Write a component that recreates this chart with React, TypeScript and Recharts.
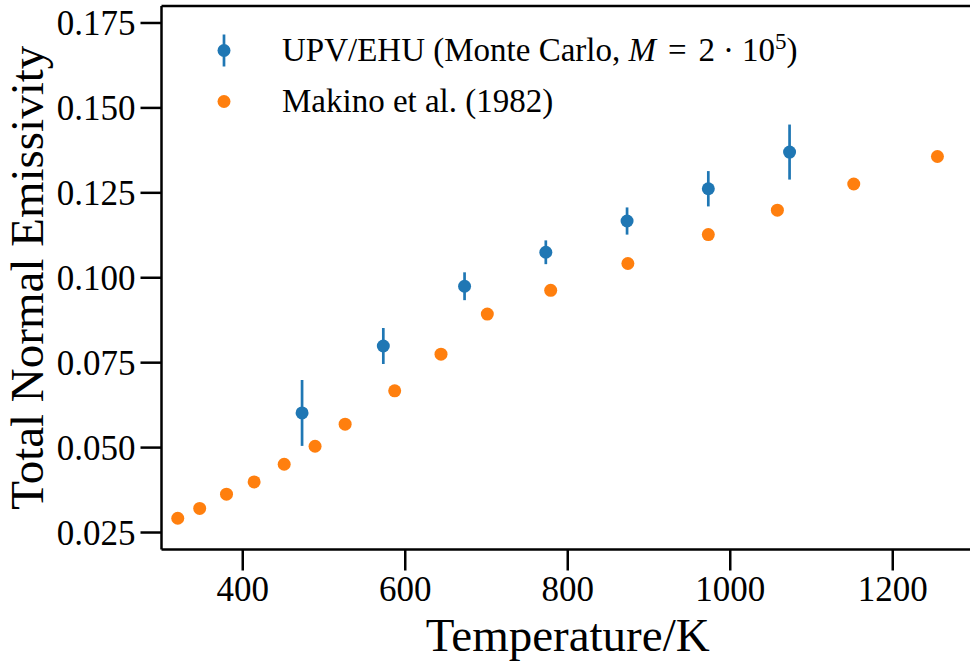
import React from 'react';
import { ScatterChart, Scatter, XAxis, YAxis, ErrorBar, Legend, ReferenceLine } from 'recharts';

// UPV/EHU Monte Carlo results
const upvTemps = [473, 573, 673, 773, 873, 973, 1073];
const upvEmissivity = [0.0602, 0.0799, 0.0975, 0.1075, 0.1167, 0.1262, 0.137];
const upvError = [0.0097, 0.0053, 0.0041, 0.0035, 0.004, 0.0052, 0.0081];

// Makino et al. (1982)
const makinoTemps = [320, 347, 380, 414, 451, 489, 526, 587, 644, 701, 779, 874, 973, 1058, 1152, 1255];
const makinoEmissivity = [0.0292, 0.0321, 0.0363, 0.0399, 0.0451, 0.0504, 0.0569, 0.0667, 0.0775, 0.0893, 0.0963, 0.1042, 0.1127, 0.1199, 0.1276, 0.1357];

const xTicks = [400, 600, 800, 1000, 1200];
const yTicks = [0.025, 0.05, 0.075, 0.1, 0.125, 0.15, 0.175];
const xDomain = [300, 1300];
const yDomain = [0.02, 0.18];

const BLUE = '#1f77b4';
const ORANGE = '#ff7f0e';
const FONT = '"Liberation Serif", "DejaVu Serif", serif';

const upvData = upvTemps.map((t, i) => ({ x: t, y: upvEmissivity[i], err: upvError[i] }));
const makinoData = makinoTemps.map((t, i) => ({ x: t, y: makinoEmissivity[i] }));

const BlueDot = (p: any) => <circle cx={p.cx} cy={p.cy} r={6.5} fill={BLUE} />;
const OrangeDot = (p: any) => <circle cx={p.cx} cy={p.cy} r={6.5} fill={ORANGE} />;

const YLabel = (props: any) => {
  const vb = props.viewBox || { x: 0, y: 6, width: 161.5, height: 543.5 };
  const x = (vb.x || 0) + 43;
  const cy = vb.y + vb.height / 2;
  return (
    <text x={x} y={cy} transform={`rotate(-90, ${x}, ${cy})`} textAnchor="middle" fontFamily={FONT} fontSize={47} fill="#000">
      Total Normal Emissivity
    </text>
  );
};

const XLabel = (props: any) => {
  const vb = props.viewBox || { x: 161.5, y: 549.5, width: 812.5, height: 112.5 };
  const cx = vb.x + vb.width / 2;
  return (
    <text x={cx} y={vb.y + 101.5} textAnchor="middle" fontFamily={FONT} fontSize={47} fill="#000">
      Temperature/K
    </text>
  );
};

const LegendContent = () => (
  <div style={{ fontFamily: FONT, fontSize: 33, color: '#000', lineHeight: '33px' }}>
    <div style={{ display: 'flex', alignItems: 'center', height: 51 }}>
      <svg width={82} height={51} style={{ display: 'block' }}>
        <line x1={24} x2={24} y1={9.5} y2={41.5} stroke={BLUE} strokeWidth={2.7} />
        <circle cx={24} cy={25.5} r={6.5} fill={BLUE} />
      </svg>
      <span style={{ whiteSpace: 'nowrap' }}>
        UPV/EHU (Monte Carlo, <i>M</i>
        <span style={{ margin: '0 12px' }}>=</span>2<span style={{ margin: '0 8px' }}>·</span>10
        <sup style={{ fontSize: 23, lineHeight: 0 }}>5</sup>)
      </span>
    </div>
    <div style={{ display: 'flex', alignItems: 'center', height: 51 }}>
      <svg width={82} height={51} style={{ display: 'block' }}>
        <circle cx={24} cy={25.5} r={6.5} fill={ORANGE} />
      </svg>
      <span style={{ whiteSpace: 'nowrap' }}>Makino et al. (1982)</span>
    </div>
  </div>
);

const axisStroke = { stroke: '#000', strokeWidth: 2.5 };
const tickStyle = { fontFamily: FONT, fontSize: 35, fill: '#000' };

export default function App() {
  return (
    <div style={{ position: 'absolute', left: 0, top: 0, width: 970, height: 662, overflow: 'hidden', background: '#fff' }}>
      <ScatterChart width={980} height={662} margin={{ top: 6, right: 6, bottom: 0, left: 0 }}>
        <XAxis
          type="number"
          dataKey="x"
          domain={xDomain}
          allowDataOverflow
          ticks={xTicks}
          height={112.5}
          tickSize={21}
          tickMargin={6}
          axisLine={axisStroke}
          tickLine={axisStroke}
          tick={tickStyle}
          label={<XLabel />}
        />
        <YAxis
          type="number"
          dataKey="y"
          domain={yDomain}
          allowDataOverflow
          ticks={yTicks}
          width={161.5}
          tickSize={21}
          tickMargin={5}
          axisLine={axisStroke}
          tickLine={axisStroke}
          tick={tickStyle}
          tickFormatter={(v: number) => v.toFixed(3)}
          label={<YLabel />}
        />
        <ReferenceLine y={yDomain[1]} stroke="#000" strokeWidth={2.5} />
        <ReferenceLine x={xDomain[1]} stroke="#000" strokeWidth={2.5} />
        <Legend
          layout="vertical"
          align="center"
          verticalAlign="middle"
          content={<LegendContent />}
          wrapperStyle={{ left: 200, top: 24.5, width: 'auto', height: 'auto' }}
        />
        <Scatter name="UPV/EHU" data={upvData} dataKey="y" shape={BlueDot} fill={BLUE} isAnimationActive={false}>
          <ErrorBar dataKey="err" direction="y" width={0} stroke={BLUE} strokeWidth={2.7} isAnimationActive={false} />
        </Scatter>
        <Scatter name="Makino et al. (1982)" data={makinoData} dataKey="y" shape={OrangeDot} fill={ORANGE} isAnimationActive={false} />
      </ScatterChart>
    </div>
  );
}
